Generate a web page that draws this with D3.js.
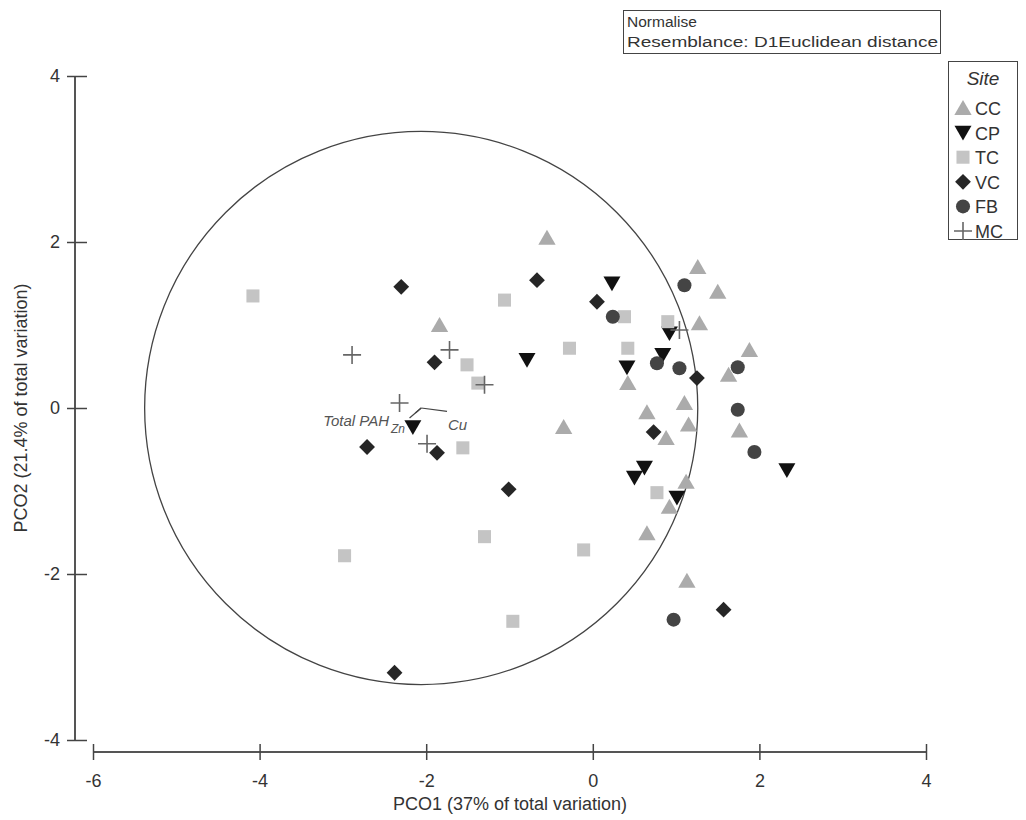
<!DOCTYPE html>
<html>
<head>
<meta charset="utf-8">
<script src="https://cdn.jsdelivr.net/npm/d3@7"></script>
<style>
  body { margin: 0; background: #fff; }
  svg text { font-family: "Liberation Sans", Arial, sans-serif; }
</style>
</head>
<body>
<div id="chart"></div>
<script>
// PCO scores per site
const cc = [[-0.55,2.05],[-1.84,1.00],[-0.35,-0.23],[1.26,1.70],[1.50,1.40],[1.28,1.02],[1.88,0.70],[1.63,0.40],[0.42,0.30],[0.65,-0.05],[0.88,-0.36],[1.10,0.06],[1.15,-0.20],[1.12,-0.89],[0.92,-1.19],[0.65,-1.51],[1.76,-0.27],[1.13,-2.08]];
const cp = [[0.23,1.50],[-0.79,0.58],[0.41,0.49],[0.84,0.64],[0.92,0.90],[0.62,-0.72],[0.50,-0.84],[1.01,-1.08],[2.33,-0.75],[-2.16,-0.23]];
const tc = [[-4.08,1.35],[-1.06,1.30],[-0.28,0.72],[-1.51,0.52],[-1.38,0.30],[-1.56,-0.48],[-2.98,-1.78],[-1.30,-1.55],[-0.11,-1.71],[-0.96,-2.57],[0.38,1.10],[0.90,1.04],[0.42,0.72],[0.77,-1.02]];
const vc = [[-2.30,1.46],[-0.67,1.54],[-1.90,0.55],[0.05,1.28],[1.25,0.36],[0.73,-0.29],[-2.71,-0.47],[-1.87,-0.54],[-1.01,-0.98],[-2.38,-3.19],[1.57,-2.43]];
const fb = [[1.10,1.48],[0.24,1.10],[0.77,0.54],[1.04,0.48],[1.74,0.49],[1.74,-0.02],[1.94,-0.53],[0.97,-2.55]];
const mc = [[-2.89,0.64],[-1.72,0.70],[-1.30,0.28],[-2.32,0.06],[-1.99,-0.43],[1.04,0.94]];

const siteNames = ["CC", "CP", "TC", "VC", "FB", "MC"];
const siteData = [cc, cp, tc, vc, fb, mc];

// vector overlay
const vecOrigin = [-2.06, 0.0];
const circleRadius = 3.32;
const vecNames = ["Total PAH", "Zn", "Cu"];
const vecEnds = [[-2.13,-0.06],[-2.2,-0.12],[-1.75,-0.04]];

const xTicks = [-6, -4, -2, 0, 2, 4];
const yTicks = [-4, -2, 0, 2, 4];

const width = 1026, height = 820;

const x = d3.scaleLinear().domain([-6, 4]).range([93, 926]);
const y = d3.scaleLinear().domain([-4, 4]).range([740, 76]);

const svg = d3.select("#chart").append("svg")
  .attr("width", width)
  .attr("height", height);

// symbols for each site
const sym = {
  CC: { type: d3.symbolTriangle, size: 130, fill: "#ababab", rot: 0 },
  CP: { type: d3.symbolTriangle, size: 125, fill: "#111", rot: 180 },
  TC: { type: d3.symbolSquare, size: 170, fill: "#c4c4c4", rot: 0 },
  VC: { type: d3.symbolSquare, size: 125, fill: "#262626", rot: 45 },
  FB: { type: d3.symbolCircle, size: 155, fill: "#444", rot: 0 },
  MC: { type: "plus", size: 0, fill: "none", rot: 0 }
};

function drawSymbol(g, name, cx, cy) {
  const s = sym[name];
  if (s.type === "plus") {
    g.append("path")
      .attr("d", `M${cx - 9},${cy}H${cx + 9}M${cx},${cy - 9}V${cy + 9}`)
      .attr("stroke", "#666")
      .attr("stroke-width", 1.6)
      .attr("fill", "none");
  } else {
    const dy = name === "CP" ? -2 : (name === "CC" ? 2 : 0);
    g.append("path")
      .attr("d", d3.symbol().type(s.type).size(s.size)())
      .attr("transform", `translate(${cx},${cy + dy}) rotate(${s.rot})`)
      .attr("fill", s.fill);
  }
}

// circle
svg.append("circle")
  .attr("cx", x(vecOrigin[0]))
  .attr("cy", y(vecOrigin[1]))
  .attr("r", x(vecOrigin[0] + circleRadius) - x(vecOrigin[0]))
  .attr("fill", "none")
  .attr("stroke", "#444")
  .attr("stroke-width", 1.3);

// points
const pts = svg.append("g");
siteData.forEach((arr, i) => {
  arr.forEach(d => drawSymbol(pts, siteNames[i], x(d[0]), y(d[1])));
});

// vectors
const vg = svg.append("g");
vecEnds.forEach((d, i) => {
  vg.append("line")
    .attr("x1", x(vecOrigin[0])).attr("y1", y(vecOrigin[1]))
    .attr("x2", x(d[0])).attr("y2", y(d[1]))
    .attr("stroke", "#444").attr("stroke-width", 1.2);
});
vg.append("text").attr("x", 389).attr("y", 426).attr("text-anchor", "end")
  .attr("font-size", 15).attr("font-style", "italic").attr("fill", "#555").text(vecNames[0]);
vg.append("text").attr("x", 391).attr("y", 433)
  .attr("font-size", 12).attr("font-style", "italic").attr("fill", "#555").text(vecNames[1]);
vg.append("text").attr("x", 448).attr("y", 430)
  .attr("font-size", 15).attr("font-style", "italic").attr("fill", "#555").text(vecNames[2]);

// axes
const fmt = d => String(d);
const xAxis = svg.append("g")
  .attr("transform", "translate(0,752)")
  .call(d3.axisBottom(x).tickValues(xTicks).tickFormat(fmt).tickSize(8).tickPadding(14));
xAxis.selectAll(".tick line").attr("y1", -8).attr("y2", 8);

const yAxis = svg.append("g")
  .attr("transform", "translate(75,0)")
  .call(d3.axisLeft(y).tickValues(yTicks).tickFormat(fmt).tickSize(8).tickPadding(7));
yAxis.selectAll(".tick line").attr("x1", -8).attr("x2", 12);

[xAxis, yAxis].forEach(a => {
  a.select(".domain").attr("stroke", "#555").attr("stroke-width", 2);
  a.selectAll(".tick line").attr("stroke", "#444").attr("stroke-width", 1.5);
  a.selectAll(".tick text").attr("font-size", 18).attr("fill", "#333");
});
xAxis.select(".domain").attr("d", `M${x(-6)},0H${x(4)}`);
yAxis.select(".domain").attr("d", `M0,${y(4)}V${y(-4)}`);

svg.append("text")
  .attr("x", 510).attr("y", 810)
  .attr("text-anchor", "middle").attr("font-size", 18).attr("fill", "#333")
  .text("PCO1 (37% of total variation)");

svg.append("text")
  .attr("transform", "translate(27,408) rotate(-90)")
  .attr("text-anchor", "middle").attr("font-size", 18).attr("fill", "#333")
  .text("PCO2 (21.4% of total variation)");

// info box
svg.append("rect")
  .attr("x", 623.5).attr("y", 10.5).attr("width", 317).attr("height", 43)
  .attr("fill", "#fff").attr("stroke", "#444");
svg.append("text").attr("x", 627).attr("y", 27).attr("font-size", 15.5).attr("fill", "#333").text("Normalise");
svg.append("text").attr("x", 627).attr("y", 47).attr("font-size", 15.5).attr("fill", "#333")
  .attr("textLength", 311).attr("lengthAdjust", "spacingAndGlyphs")
  .text("Resemblance: D1Euclidean distance");

// legend
const lg = svg.append("g");
lg.append("rect")
  .attr("x", 948.5).attr("y", 61.5).attr("width", 69).attr("height", 178)
  .attr("fill", "#fff").attr("stroke", "#444");
lg.append("text").attr("x", 983).attr("y", 85).attr("text-anchor", "middle")
  .attr("font-size", 19).attr("font-style", "italic").attr("fill", "#333").text("Site");
siteNames.forEach((n, i) => {
  const cy = 108 + i * 24.6;
  drawSymbol(lg, n, 963, cy);
  lg.append("text").attr("x", 975).attr("y", cy + 7)
    .attr("font-size", 18).attr("fill", "#333").text(n);
});
</script>
</body>
</html>
